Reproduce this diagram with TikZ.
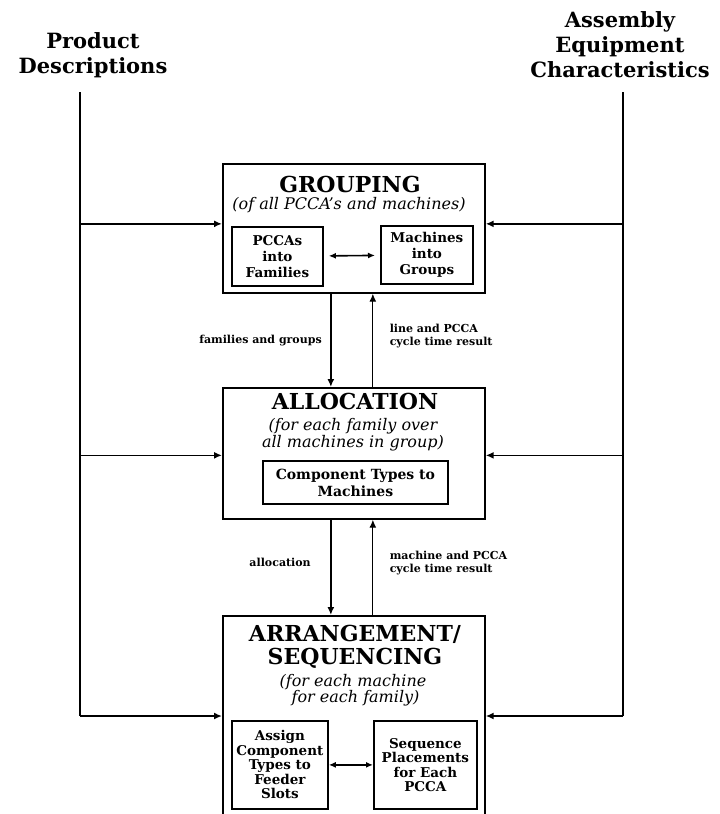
\documentclass[tikz,border=0pt]{standalone}
\usepackage{fontspec}
\setmainfont{DejaVu Serif}
\usetikzlibrary{arrows.meta, positioning}

\begin{document}
\begin{tikzpicture}[
    x=1pt, y=-1pt,
    every node/.style={font=\bfseries},
    stage/.style={rectangle, draw, line width=1.7pt, anchor=north west, minimum width=262pt},
    task/.style={rectangle, draw, line width=1.8pt, anchor=north west, align=center, inner sep=1pt, font=\bfseries\fontsize{13.5}{14.5}\selectfont},
    source/.style={align=center, font=\bfseries\fontsize{21}{25}\selectfont},
    stagetitle/.style={align=center, font=\bfseries\fontsize{22}{23}\selectfont},
    scopenote/.style={align=center, font=\itshape\fontsize{16}{15.5}\selectfont},
    note/.style={align=left, font=\bfseries\fontsize{11}{13}\selectfont},
    arrow/.style={-{Latex[length=8pt, width=7pt]}, line width=1.6pt},
    backarrow/.style={-{Latex[length=8pt, width=7pt]}, line width=1.2pt},
    twoway/.style={{Latex[length=7pt, width=6pt]}-{Latex[length=7pt, width=6pt]}, line width=1.6pt},
    feed/.style={line width=2pt}
]
\clip (0,0) rectangle (720,814);

% inputs
\node[source] (product) at (93,55) {Product\\Descriptions};
\node[source] (assembly) at (620,45) {Assembly\\Equipment\\Characteristics};
\coordinate (pdtop) at (80,92);
\coordinate (pdend) at (80,716);
\coordinate (aetop) at (623,92);
\coordinate (aeend) at (623,716);

% stages
\node[stage, minimum height=129pt] (grouping) at (222,163) {};
\node[stage, minimum height=131pt] (allocation) at (222,387) {};
\node[stage, minimum height=220pt] (arrange) at (222,615) {};

\node[stagetitle] (groupingttl) at (350,184) {GROUPING};
\node[scopenote] (groupingnote) at (349,205) {(of all PCCA's and machines)};
\node[stagetitle] (allocationttl) at (355,401) {ALLOCATION};
\node[scopenote] (allocationnote) at (353,435) {(for each family over\\all machines in group)};
\node[stagetitle] (arrangettl) at (355,647) {ARRANGEMENT/\\SEQUENCING};
\node[scopenote] (arrangenote) at (353,690) {(for each machine\\\ for each family)};

% tasks
\node[task, minimum width=91pt, minimum height=59pt, font=\bfseries\fontsize{13.5}{16}\selectfont] (pccas) at (231,226) {PCCAs\\into\\Families};
\node[task, minimum width=92pt, minimum height=58pt, font=\bfseries\fontsize{13.5}{16}\selectfont] (machines) at (380,225) {Machines\\into\\Groups};
\node[task, minimum width=185pt, minimum height=43pt, font=\bfseries\fontsize{14}{17}\selectfont] (comptypes) at (262,460) {Component Types to\\Machines};
\node[task, minimum width=96pt, minimum height=88pt] (assign) at (231,720) {Assign\\Component\\Types to\\Feeder\\Slots};
\node[task, minimum width=103pt, minimum height=88pt] (sequence) at (373,720) {Sequence\\Placements\\for Each\\PCCA};

% input lines
\draw[feed] (pdtop) -- (pdend);
\draw[feed] (aetop) -- (aeend);
\draw[arrow] (pdtop |- grouping.west) ++(0,-4.5) -- ([yshift=4.5pt]grouping.west);
\draw[arrow] (aetop |- grouping.east) ++(0,-4.5) -- ([yshift=4.5pt]grouping.east);
\draw[arrow] (pdtop |- allocation.west) ++(0,2) -- ([yshift=-2pt]allocation.west);
\draw[arrow] (aetop |- allocation.east) ++(0,2) -- ([yshift=-2pt]allocation.east);
\draw[arrow] (pdend) -- (pdend -| arrange.west);
\draw[arrow] (aeend) -- (aeend -| arrange.east);

% between stages
\draw[arrow] ([xshift=-23pt]grouping.south) -- node[note, left=5pt] (famlbl) {families and groups} ([xshift=-23pt]allocation.north);
\draw[backarrow] ([xshift=19pt]allocation.north) -- node[note, right=13pt, pos=0.55] (linelbl) {line and PCCA\\cycle time result} ([xshift=19pt]grouping.south);
\draw[arrow] ([xshift=-23pt]allocation.south) -- node[note, left=16pt, pos=0.45] (alloclbl) {allocation} ([xshift=-23pt]arrange.north);
\draw[backarrow] ([xshift=19pt]arrange.north) -- node[note, right=13pt, pos=0.55] (machlbl) {machine and PCCA\\cycle time result} ([xshift=19pt]allocation.south);

% inside stages
\draw[twoway, shorten <=5pt, shorten >=5pt] (pccas) -- (machines);
\draw[twoway] (assign) -- (sequence);
\end{tikzpicture}
\end{document}
